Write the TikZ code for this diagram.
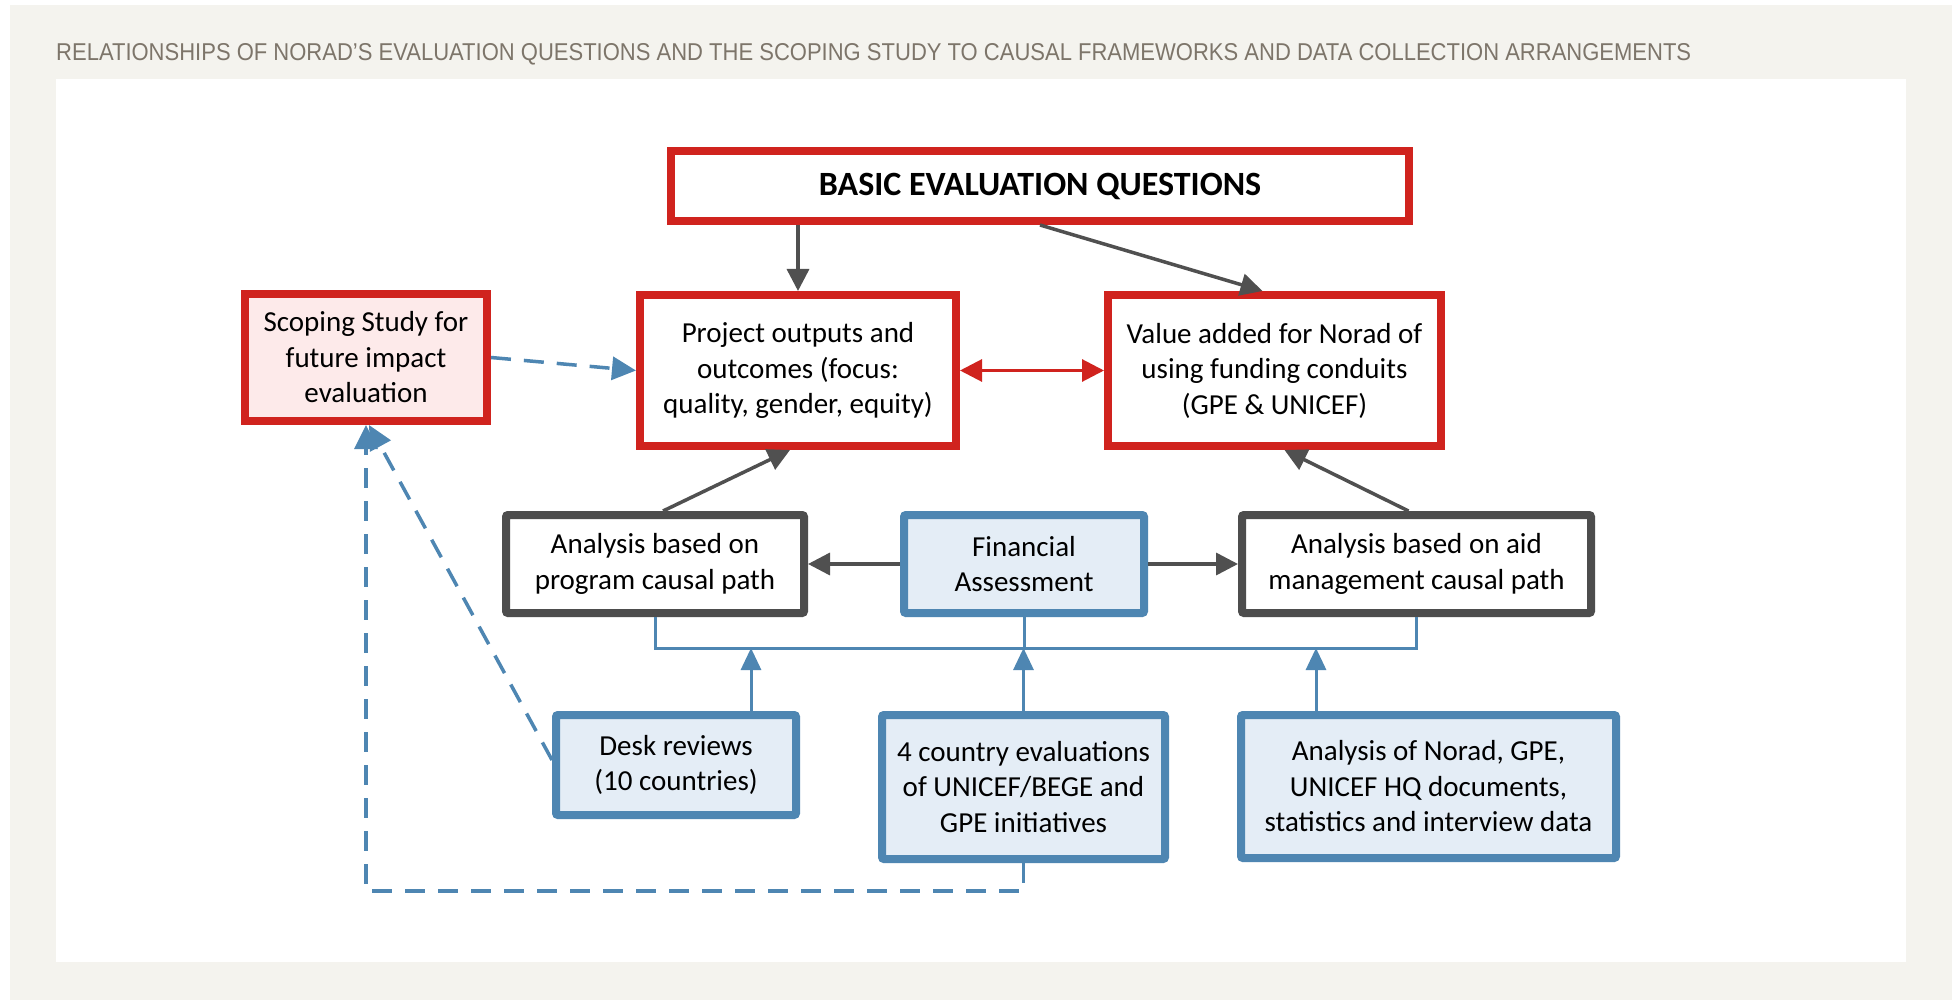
\documentclass[tikz,border=0pt]{standalone}
\usepackage{fontspec}
\usepackage{graphicx}
\setmainfont{Carlito}
\newfontfamily\titlefont{Liberation Sans}
\usetikzlibrary{arrows.meta,calc}

\definecolor{pagebg}{RGB}{244,243,238}
\definecolor{titlegray}{RGB}{125,117,106}
\definecolor{evalred}{RGB}{208,35,30}
\definecolor{pinkfill}{RGB}{253,234,234}
\definecolor{steelblue}{RGB}{78,134,178}
\definecolor{bluefill}{RGB}{228,237,246}
\definecolor{boxgray}{RGB}{77,77,77}
\definecolor{arrowgray}{RGB}{80,80,80}

\newcommand\boxfont{\fontsize{29}{35.5}\selectfont}

\tikzset{
  box/.style={draw, line width=8pt, outer sep=4pt, inner sep=0pt,
    align=center, font=\boxfont, text=black},
  redbox/.style={box, draw=evalred, fill=white},
  scopebox/.style={box, draw=evalred, fill=pinkfill},
  graybox/.style={box, draw=boxgray, fill=white, rounded corners=2pt},
  bluebox/.style={box, draw=steelblue, fill=bluefill, rounded corners=2pt},
  grayarrow/.style={draw=arrowgray, line width=3.5pt,
    -{Triangle[length=22pt,width=22pt]}},
  redboth/.style={draw=evalred, line width=3pt,
    {Triangle[length=22pt,width=22pt]}-{Triangle[length=22pt,width=22pt]}},
  blueline/.style={draw=steelblue, line width=3pt},
  bluearrow/.style={blueline, -{Triangle[length=22pt,width=20pt]}},
  bluedash/.style={draw=steelblue, line width=3.5pt,
    dash pattern=on 20pt off 13pt, -{Triangle[length=24pt,width=23pt]}}
}

\begin{document}
\begin{tikzpicture}[x=1pt,y=-1pt]
\useasboundingbox (0,0) rectangle (1952,1000);
% page background and white panel
\fill[white] (0,0) rectangle (1952,1000);
\fill[pagebg] (10,5) rectangle (1952,1000);
\fill[white] (56,79) rectangle (1906,962);

% heading
\node[anchor=base west, inner sep=0pt, text=titlegray] (title) at (56,61)
  {\resizebox{1635pt}{17pt}{\titlefont RELATIONSHIPS OF NORAD’S EVALUATION QUESTIONS AND THE SCOPING STUDY TO CAUSAL FRAMEWORKS AND DATA COLLECTION ARRANGEMENTS}};

% boxes
\node[redbox, minimum width=738pt, minimum height=70pt] (beq) at (1040,186)
  {\fontsize{34}{40}\selectfont\bfseries BASIC EVALUATION QUESTIONS};
\node[scopebox, minimum width=242pt, minimum height=127pt] (scope) at (366,357.5)
  {Scoping Study for\\future impact\\evaluation};
\node[redbox, minimum width=316pt, minimum height=151pt] (proj) at (798,370.5)
  {Project outputs and\\outcomes (focus:\\quality, gender, equity)};
\node[redbox, minimum width=333pt, minimum height=151pt] (value) at (1274.5,370.5)
  {Value added for Norad of\\using funding conduits\\(GPE \& UNICEF)};
\node[graybox, minimum width=298pt, minimum height=98pt] (prog) at (655,564)
  {Analysis based on\\program causal path};
\node[bluebox, minimum width=240pt, minimum height=98pt] (fin) at (1024,564)
  {Financial\\Assessment};
\node[graybox, minimum width=349pt, minimum height=98pt] (aid) at (1416.5,564)
  {Analysis based on aid\\management causal path};
\node[bluebox, minimum width=240pt, minimum height=100pt] (desk) at (676,765)
  {Desk reviews\\(10 countries)};
\node[bluebox, minimum width=283pt, minimum height=144pt] (ctry) at (1023.5,787)
  {4 country evaluations\\of UNICEF/BEGE and\\GPE initiatives};
\node[bluebox, minimum width=375pt, minimum height=143pt] (docs) at (1428.5,786.5)
  {Analysis of Norad, GPE,\\UNICEF HQ documents,\\statistics and interview data};

% evaluation questions to the two question areas
\draw[grayarrow] (proj.north |- beq.south) -- (proj.north);
\draw[grayarrow] (beq.south) -- ([xshift=-12pt]value.north);
\draw[redboth] (proj.east) -- (value.west);
\draw[bluedash] (scope.east) -- (proj.west);

% causal path analyses feeding the question areas
\draw[grayarrow] ([xshift=8pt]prog.north) -- ([xshift=-8pt]proj.south);
\draw[grayarrow] ([xshift=-8pt]aid.north) -- ([xshift=10pt]value.south);
\draw[grayarrow] (fin.west) -- (prog.east);
\draw[grayarrow] (fin.east) -- (aid.west);

% data collection bus
\coordinate (bar) at (0,648);
\draw[blueline] (prog.south) -- (prog.south |- bar) -- (aid.south |- bar) -- (aid.south);
\draw[blueline] (fin.south) -- (fin.south |- bar);
\draw[bluearrow] ([xshift=75pt]desk.north) -- ([xshift=75pt]desk.north |- bar);
\draw[bluearrow] (ctry.north) -- (ctry.north |- bar);
\draw[bluearrow] ([xshift=-112.5pt]docs.north) -- ([xshift=-112.5pt]docs.north |- bar);

% links to the scoping study
\draw[bluedash] (ctry.south) -- ++(0,28) -| (scope.south);
\draw[bluedash] ([yshift=5pt]desk.west) -- ([xshift=3pt]scope.south);
\end{tikzpicture}
\end{document}
